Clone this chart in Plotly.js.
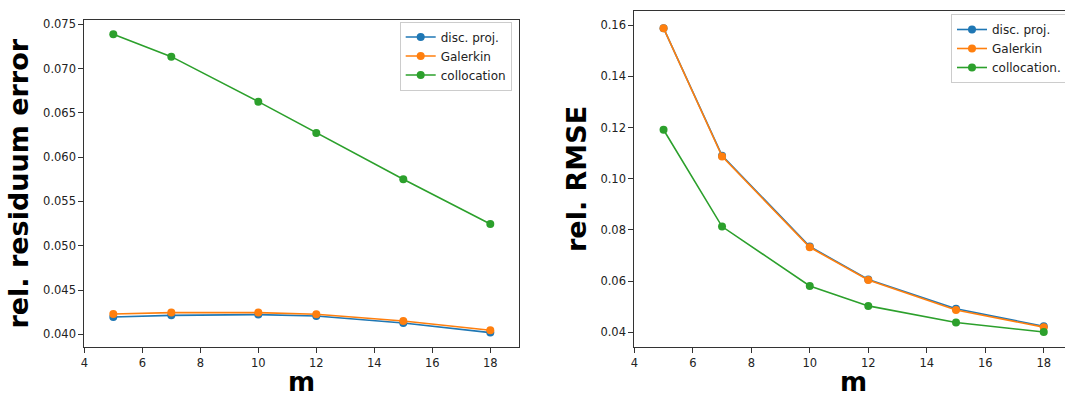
<!DOCTYPE html>
<html>
<head>
<meta charset="utf-8">
<script src="https://cdn.plot.ly/plotly-3.0.1.min.js"></script>
<style>
html,body{margin:0;padding:0;overflow:hidden;background:#fff;}
#chart{width:1080px;height:396px;}
</style>
</head>
<body>
<div id="chart"></div>
<script>
// ---- data ----
const m = [5, 7, 10, 12, 15, 18];
const seriesNames = ["disc. proj.", "Galerkin", "collocation"];
const seriesNamesRight = ["disc. proj.", "Galerkin", "collocation."];

const residDisc = [0.04195, 0.04214, 0.04222, 0.04207, 0.04128, 0.04019];
const residGalerkin = [0.04229, 0.04245, 0.04245, 0.04226, 0.04150, 0.04045];
const residColloc = [0.07387, 0.07135, 0.06627, 0.06273, 0.05750, 0.05246];

const rmseDisc = [0.1588, 0.1090, 0.0735, 0.0606, 0.0492, 0.0423];
const rmseGalerkin = [0.1588, 0.1087, 0.0732, 0.0604, 0.0487, 0.0420];
const rmseColloc = [0.1191, 0.0813, 0.0581, 0.0503, 0.0438, 0.0401];

const colors = ["#1f77b4", "#ff7f0e", "#2ca02c"];

const W = 1080, H = 396;
function px(x){ return x / W; }
function py(y){ return (H - y) / H; }

function tr(y, i, xa, ya, legend, names){
  return {
    x: m, y: y, type: "scatter", mode: "lines+markers",
    name: names[i], xaxis: xa, yaxis: ya, legend: legend,
    line: {color: colors[i], width: 1.6},
    marker: {color: colors[i], size: 8}
  };
}

const data = [
  tr(residDisc, 0, "x", "y", "legend", seriesNames),
  tr(residGalerkin, 1, "x", "y", "legend", seriesNames),
  tr(residColloc, 2, "x", "y", "legend", seriesNames),
  tr(rmseDisc, 0, "x2", "y2", "legend2", seriesNamesRight),
  tr(rmseGalerkin, 1, "x2", "y2", "legend2", seriesNamesRight),
  tr(rmseColloc, 2, "x2", "y2", "legend2", seriesNamesRight)
];

const tickFont = {family: "DejaVu Sans", size: 11.5, color: "#222"};
const axBase = {
  showgrid: false, zeroline: false, showline: true, mirror: true,
  linecolor: "#333", linewidth: 1, ticks: "outside", ticklen: 5,
  tickcolor: "#333", tickwidth: 1, tickfont: tickFont
};

const legendBase = {
  bgcolor: "rgba(255,255,255,0.9)", bordercolor: "#cccccc", borderwidth: 1,
  font: {family: "DejaVu Sans", size: 12, color: "#222"},
  tracegroupgap: 0, itemwidth: 30
};

const titleFont = {family: "DejaVu Sans", size: 27, color: "#000", weight: "bold"};
const mFont = {family: "DejaVu Sans", size: 26, color: "#000", weight: "bold"};

const layout = {
  width: W, height: H,
  margin: {l: 0, r: 0, t: 0, b: 0},
  paper_bgcolor: "#fff", plot_bgcolor: "#fff",
  showlegend: true,
  xaxis: Object.assign({}, axBase, {
    domain: [px(84.3), px(519.3)], range: [4, 19], dtick: 2, tick0: 4, anchor: "y"
  }),
  yaxis: Object.assign({}, axBase, {
    domain: [py(347.3), py(20)], range: [0.03853, 0.07549], dtick: 0.005, tick0: 0,
    tickformat: ".3f", anchor: "x"
  }),
  xaxis2: Object.assign({}, axBase, {
    domain: [px(634.3), px(1073)], range: [4, 19], dtick: 2, tick0: 4, anchor: "y2"
  }),
  yaxis2: Object.assign({}, axBase, {
    domain: [py(346.7), py(11)], range: [0.03436, 0.1655], dtick: 0.02, tick0: 0,
    tickformat: ".2f", anchor: "x2"
  }),
  legend: Object.assign({}, legendBase, {
    x: px(511.7), xanchor: "right", y: py(21.5), yanchor: "top"
  }),
  legend2: Object.assign({}, legendBase, {
    x: px(951), xanchor: "left", y: py(14), yanchor: "top"
  }),
  annotations: [
    {text: "rel. residuum error", xref: "paper", yref: "paper", x: px(19), y: py(183.6),
     xanchor: "center", yanchor: "middle", textangle: -90, showarrow: false, font: titleFont},
    {text: "m", xref: "paper", yref: "paper", x: px(301.8), y: py(381.5),
     xanchor: "center", yanchor: "middle", showarrow: false, font: mFont, borderpad: 0},
    {text: "rel. RMSE", xref: "paper", yref: "paper", x: px(576), y: py(179),
     xanchor: "center", yanchor: "middle", textangle: -90, showarrow: false, font: titleFont},
    {text: "m", xref: "paper", yref: "paper", x: px(853.7), y: py(381.5),
     xanchor: "center", yanchor: "middle", showarrow: false, font: mFont, borderpad: 0}
  ]
};

Plotly.newPlot("chart", data, layout, {displayModeBar: false, staticPlot: true});
</script>
</body>
</html>
